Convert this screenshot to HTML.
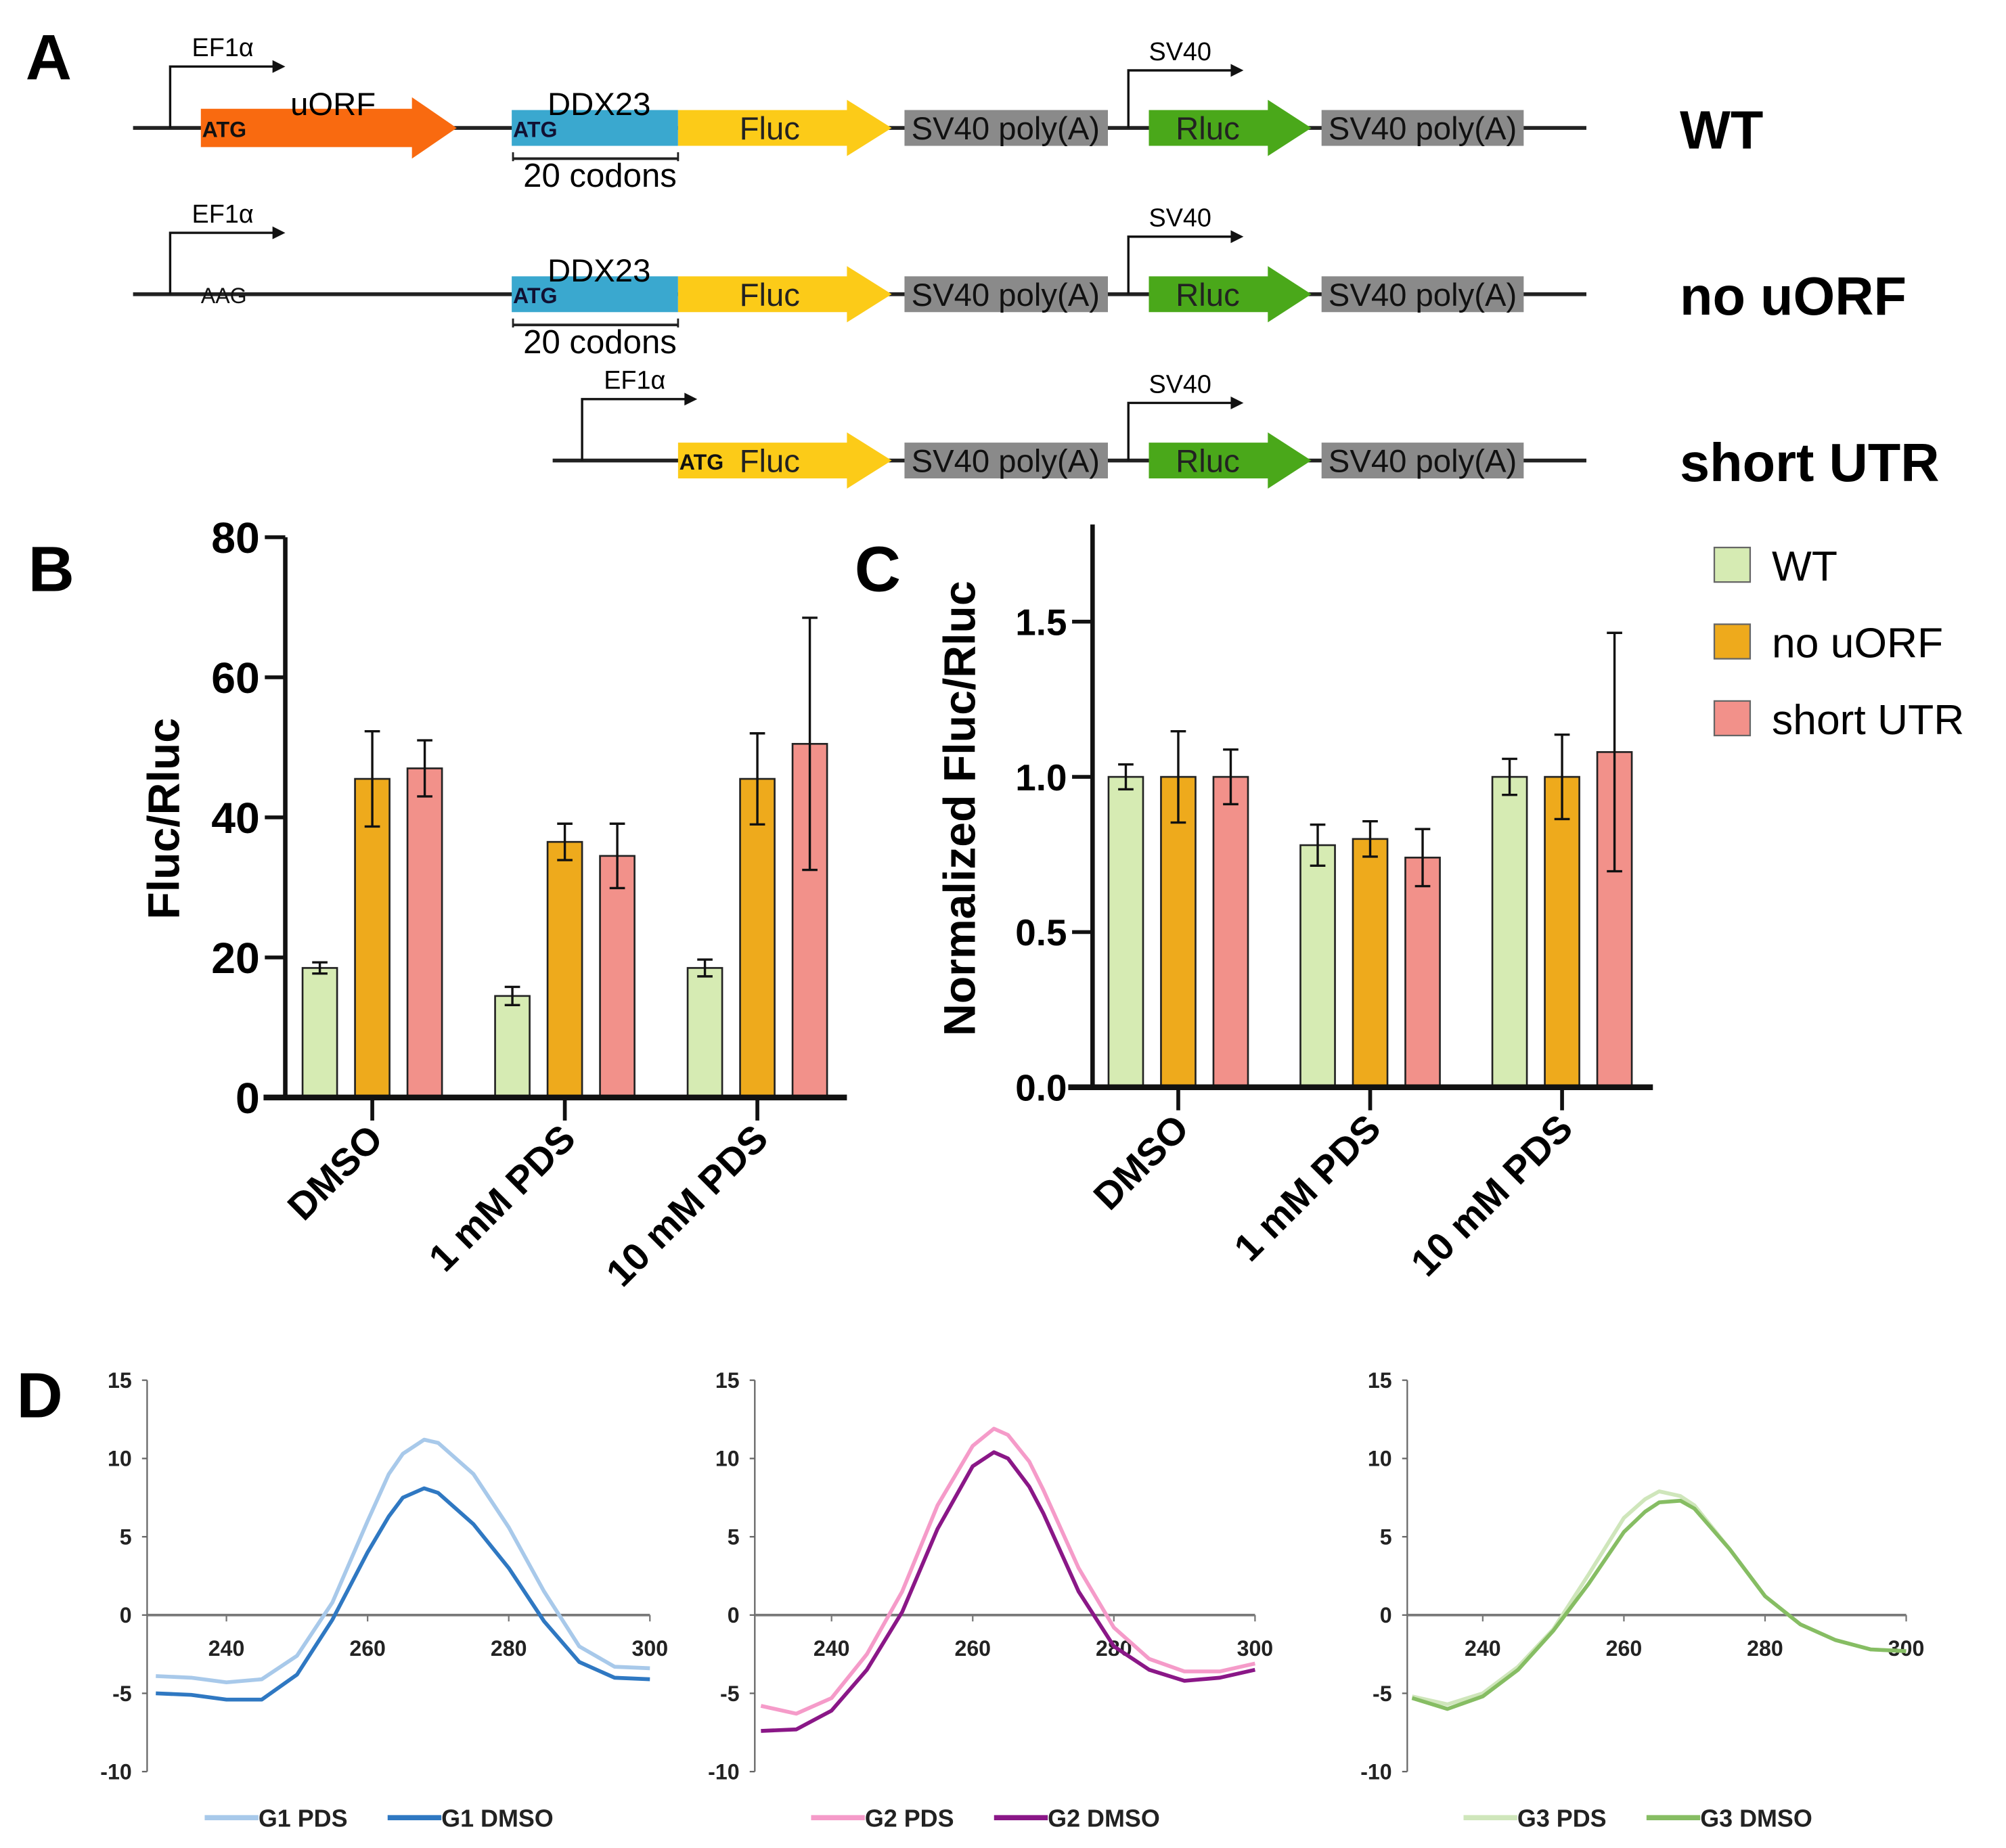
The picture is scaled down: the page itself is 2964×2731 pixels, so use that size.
<!DOCTYPE html>
<html><head><meta charset="utf-8"><style>
html,body{margin:0;padding:0;background:#fff;}
svg{display:block;}
text{font-family:"Liberation Sans",sans-serif;}
#panelA text.n{font-family:"Liberation Sans Narrow","Liberation Sans",sans-serif;}
</style></head><body>
<svg id="fig" width="2964" height="2731" viewBox="0 0 1568 1444.7" xmlns="http://www.w3.org/2000/svg">
<rect width="1568" height="1445" fill="#fff"/>
<g id="panelA">
<text x="20" y="62" font-size="50" font-weight="bold">A</text>
</g>
<g id="panelB"></g>
<g id="panelC"></g>
<g id="panelD"></g>
</svg>
<script>
// ---- Panel B/C data ----
const categories = ["DMSO", "1 mM PDS", "10 mM PDS"];
const seriesNames = ["WT", "no uORF", "short UTR"];
const seriesColors = ["#d6ebb3", "#eeaa1c", "#f2918a"];
const bWT = [18.5, 14.5, 18.5];
const bWTerr = [0.8, 1.3, 1.2];
const bNoUORF = [45.5, 36.5, 45.5];
const bNoUORFerr = [6.8, 2.6, 6.5];
const bShort = [47, 34.5, 50.5];
const bShortErr = [4, 4.6, 18];
const bTicks = [0, 20, 40, 60, 80];
const cWT = [1.0, 0.78, 1.0];
const cWTerr = [0.04, 0.066, 0.058];
const cNoUORF = [1.0, 0.80, 1.0];
const cNoUORFerr = [0.147, 0.057, 0.136];
const cShort = [1.0, 0.74, 1.08];
const cShortErr = [0.088, 0.092, 0.384];
const cTicks = ["0.0", "0.5", "1.0", "1.5"];
// ---- Panel D data (wavelength nm, CD mdeg) ----
const wl = [230,235,240,245,250,255,260,263,265,268,270,275,280,285,290,295,300];
const g1PDS  = [-3.9,-4.0,-4.3,-4.1,-2.6,0.8,6.0,9.0,10.3,11.2,11.0,9.0,5.6,1.5,-2.0,-3.3,-3.4];
const g1DMSO = [-5.0,-5.1,-5.4,-5.4,-3.8,-0.3,4.0,6.3,7.5,8.1,7.8,5.8,3.0,-0.4,-3.0,-4.0,-4.1];
const g2PDS  = [-5.8,-6.3,-5.3,-2.5,1.5,7.0,10.8,11.9,11.5,9.8,8.0,3.0,-0.8,-2.8,-3.6,-3.6,-3.1];
const g2DMSO = [-7.4,-7.3,-6.1,-3.5,0.2,5.5,9.5,10.4,10.0,8.2,6.5,1.5,-2.0,-3.5,-4.2,-4.0,-3.5];
const g3PDS  = [-5.2,-5.7,-5.0,-3.3,-0.9,2.6,6.2,7.4,7.9,7.6,7.0,4.2,1.2,-0.6,-1.6,-2.2,-2.3];
const g3DMSO = [-5.3,-6.0,-5.2,-3.5,-1.0,2.0,5.3,6.6,7.2,7.3,6.8,4.2,1.2,-0.6,-1.6,-2.2,-2.3];
const dYTicks = [15, 10, 5, 0, -5, -10];
const dXTicks = [240, 260, 280, 300];

const NS = "http://www.w3.org/2000/svg";
function mk(parent, tag, attrs, txt){
  const e = document.createElementNS(NS, tag);
  for (const k in attrs) e.setAttribute(k, attrs[k]);
  if (txt !== undefined) e.textContent = txt;
  parent.appendChild(e);
  return e;
}

// ---------- Panel A ----------
(function(){
  const g = document.getElementById('panelA');
  const rows = [
    {y:100, x0:104, prom:133, uorf:true, ddx:true, name:"WT"},
    {y:230, x0:104, prom:133, uorf:false, ddx:true, name:"no uORF"},
    {y:360, x0:432, prom:455, uorf:false, ddx:false, name:"short UTR"}
  ];
  rows.forEach((r,i)=>{
    const rg = mk(g,'g',{});
    
    
    mk(rg,'line',{x1:r.x0,y1:r.y,x2:1240,y2:r.y,stroke:'#222','stroke-width':3});
    mk(rg,'polyline',{points:`${r.prom},${r.y} ${r.prom},${r.y-48} ${r.prom+82},${r.y-48}`,fill:'none',stroke:'#111','stroke-width':1.8});
    mk(rg,'polygon',{points:`${r.prom+90},${r.y-48} ${r.prom+80},${r.y-53} ${r.prom+80},${r.y-43}`,fill:'#111'});
    mk(rg,'text',{class:'n',x:r.prom+17,y:r.y-56,'font-size':20},'EF1α');
    mk(rg,'polyline',{points:`882,${r.y} 882,${r.y-45} 963,${r.y-45}`,fill:'none',stroke:'#111','stroke-width':1.8});
    mk(rg,'polygon',{points:`972,${r.y-45} 962,${r.y-50} 962,${r.y-40}`,fill:'#111'});
    mk(rg,'text',{class:'n',x:898,y:r.y-53,'font-size':20},'SV40');
    if (r.uorf){
      mk(rg,'polygon',{points:`157,${r.y-15} 322,${r.y-15} 322,${r.y-24} 357,${r.y} 322,${r.y+24} 322,${r.y+15} 157,${r.y+15}`,fill:'#f96a10'});
      mk(rg,'text',{class:'n',x:158,y:r.y+7,'font-size':17,'font-weight':'bold',fill:'#111'},'ATG');
      mk(rg,'text',{class:'n',x:227,y:r.y-10,'font-size':25},'uORF');
    } else if (r.ddx){
      mk(rg,'text',{class:'n',x:157,y:r.y+7,'font-size':17,fill:'#111'},'AAG');
    }
    if (r.ddx){
      mk(rg,'rect',{x:400,y:r.y-14,width:130,height:28,fill:'#3aa8cf'});
      mk(rg,'text',{class:'n',x:401,y:r.y+7,'font-size':17,'font-weight':'bold',fill:'#113'},'ATG');
      mk(rg,'text',{class:'n',x:428,y:r.y-10,'font-size':25},'DDX23');
      mk(rg,'line',{x1:401,y1:r.y+24,x2:530,y2:r.y+24,stroke:'#222','stroke-width':2});
      mk(rg,'line',{x1:401,y1:r.y+19,x2:401,y2:r.y+26,stroke:'#222','stroke-width':1.5});
      mk(rg,'line',{x1:530,y1:r.y+19,x2:530,y2:r.y+26,stroke:'#222','stroke-width':1.5});
      mk(rg,'text',{class:'n',x:409,y:r.y+46,'font-size':26},'20 codons');
    }
    mk(rg,'polygon',{points:`530,${r.y-14} 662,${r.y-14} 662,${r.y-22} 697,${r.y} 662,${r.y+22} 662,${r.y+14} 530,${r.y+14}`,fill:'#fccb18'});
    if (!r.ddx) mk(rg,'text',{class:'n',x:531,y:r.y+7,'font-size':17,'font-weight':'bold',fill:'#111'},'ATG');
    mk(rg,'text',{class:'n',x:578,y:r.y+9,'font-size':25,fill:'#222'},'Fluc');
    mk(rg,'rect',{x:707,y:r.y-14,width:159,height:28,fill:'#8a8a8a'});
    mk(rg,'text',{class:'n',x:786,y:r.y+9,'font-size':25,'text-anchor':'middle',fill:'#111'},'SV40 poly(A)');
    mk(rg,'polygon',{points:`898,${r.y-14} 991,${r.y-14} 991,${r.y-22} 1025,${r.y} 991,${r.y+22} 991,${r.y+14} 898,${r.y+14}`,fill:'#4aa81a'});
    mk(rg,'text',{class:'n',x:919,y:r.y+9,'font-size':25,fill:'#222'},'Rluc');
    mk(rg,'rect',{x:1033,y:r.y-14,width:158,height:28,fill:'#8a8a8a'});
    mk(rg,'text',{class:'n',x:1112,y:r.y+9,'font-size':25,'text-anchor':'middle',fill:'#111'},'SV40 poly(A)');
    const lab = mk(rg,'text',{x:1313,y:r.y+16,'font-size':42,'font-weight':'bold'},r.name);
    
    
  });
})();

// ---------- Bar charts ----------
function barChart(gid, o){
  const g = document.getElementById(gid);
  const y = v => o.y0 - (v - 0) / o.vmax * (o.y0 - o.yTop);
  const series = [[o.s1,o.e1],[o.s2,o.e2],[o.s3,o.e3]];
  const offs = [-41, 0, 41];
  categories.forEach((c,ci)=>{
    const cx = o.cx0 + ci*o.step;
    series.forEach((s,si)=>{
      const bx = cx + offs[si] - 13.5;
      const v = s[0][ci], e = s[1][ci];
      const r = mk(g,'rect',{x:bx,y:y(v),width:27,height:o.y0-y(v),fill:seriesColors[si],stroke:'#222','stroke-width':1.4});
      
      
      const ex = cx + offs[si];
      const eg = mk(g,'g',{stroke:'#111','stroke-width':1.8});
      
      
      mk(eg,'line',{x1:ex,y1:y(v+e),x2:ex,y2:y(v-e)});
      mk(eg,'line',{x1:ex-6,y1:y(v+e),x2:ex+6,y2:y(v+e)});
      mk(eg,'line',{x1:ex-6,y1:y(v-e),x2:ex+6,y2:y(v-e)});
    });
    mk(g,'line',{x1:cx,y1:o.y0,x2:cx,y2:o.y0+18,stroke:'#111','stroke-width':3});
    const t = mk(g,'text',{x:cx+10,y:o.y0+34,'font-size':30,'font-weight':'bold','text-anchor':'end',transform:`rotate(-45 ${cx+10} ${o.y0+34})`},c);
    
    
  });
  const ya = mk(g,'line',{x1:o.ax,y1:o.y0,x2:o.ax,y2:o.axTop,stroke:'#111','stroke-width':3.5});
  
  
  const xa = mk(g,'line',{x1:o.xStart,y1:o.y0,x2:o.xEnd,y2:o.y0,stroke:'#111','stroke-width':4.5});
  
  
  o.ticks.forEach(tk=>{
    const v = parseFloat(tk), ty = y(v);
    mk(g,'line',{x1:o.ax-16,y1:ty,x2:o.ax,y2:ty,stroke:'#111','stroke-width':3});
    const t = mk(g,'text',{x:o.ax-20,y:ty+o.tfs*0.36,'font-size':o.tfs,'font-weight':'bold','text-anchor':'end'},tk);
    
    
  });
  const ttl = mk(g,'text',{x:o.titleX,y:o.titleY,'font-size':35,'font-weight':'bold','text-anchor':'middle',transform:`rotate(-90 ${o.titleX} ${o.titleY})`},o.title);
  
  
  const L = mk(g,'text',{x:o.letterX,y:o.letterY,'font-size':50,'font-weight':'bold'},o.letter);
  
  
}
barChart('panelB',{y0:858,yTop:420,vmax:80,cx0:291,step:150.5,ax:223,axTop:420,xStart:206,xEnd:662,
  s1:bWT,e1:bWTerr,s2:bNoUORF,e2:bNoUORFerr,s3:bShort,e3:bShortErr,ticks:bTicks.map(String),tfs:34,
  title:'Fluc/Rluc',titleX:140,titleY:640,letter:'B',letterX:22,letterY:462});
barChart('panelC',{y0:850,yTop:486,vmax:1.5,cx0:921,step:150,ax:854,axTop:410,xStart:835,xEnd:1292,
  s1:cWT,e1:cWTerr,s2:cNoUORF,e2:cNoUORFerr,s3:cShort,e3:cShortErr,ticks:cTicks,tfs:29,
  title:'Normalized Fluc/Rluc',titleX:762,titleY:632,letter:'C',letterX:668,letterY:462});
(function(){
  const g = document.getElementById('panelC');
  seriesNames.forEach((n,i)=>{
    const lg = mk(g,'g',{});
    
    
    mk(lg,'rect',{x:1340,y:428+i*60,width:28,height:27,fill:seriesColors[i],stroke:'#666','stroke-width':1.2});
    mk(lg,'text',{x:1385,y:454+i*60,'font-size':33},n);
  });
})();

// ---------- Panel D ----------
(function(){
  const g = document.getElementById('panelD');
  const L = mk(g,'text',{x:13,y:1108,'font-size':50,'font-weight':'bold'},'D');
  
  
  const charts = [
    {ax:115, x240:177, x300:508, a:g1PDS, b:g1DMSO, ca:'#a8c9ea', cb:'#2f78c2', na:'G1 PDS', nb:'G1 DMSO', lx:160},
    {ax:590, x240:650, x300:981, a:g2PDS, b:g2DMSO, ca:'#f59bc9', cb:'#8a1787', na:'G2 PDS', nb:'G2 DMSO', lx:634},
    {ax:1100, x240:1159, x300:1490, a:g3PDS, b:g3DMSO, ca:'#cfe6bb', cb:'#86bd63', na:'G3 PDS', nb:'G3 DMSO', lx:1144}
  ];
  const yTop = 1079, yBot = 1385;
  const yv = v => yTop + (15 - v) / 25 * (yBot - yTop);
  charts.forEach((c,ci)=>{
    const cg = mk(g,'g',{});
    
    
    const xv = w => c.x240 + (w - 240) / 60 * (c.x300 - c.x240);
    mk(cg,'line',{x1:c.ax,y1:yTop,x2:c.ax,y2:yBot,stroke:'#666','stroke-width':1.2});
    dYTicks.forEach(t=>{
      mk(cg,'line',{x1:c.ax-4,y1:yv(t),x2:c.ax,y2:yv(t),stroke:'#666','stroke-width':1.2});
      const tt = mk(cg,'text',{x:c.ax-12,y:yv(t)+6,'font-size':17,'font-weight':'bold','text-anchor':'end',fill:'#222'},String(t));
      
      
    });
    mk(cg,'line',{x1:c.ax,y1:yv(0),x2:c.x300,y2:yv(0),stroke:'#777','stroke-width':2});
    dXTicks.forEach(t=>{
      mk(cg,'line',{x1:xv(t),y1:yv(0),x2:xv(t),y2:yv(0)+5,stroke:'#777','stroke-width':1.2});
      const tt = mk(cg,'text',{x:xv(t),y:yv(0)+32,'font-size':17,'font-weight':'bold','text-anchor':'middle',fill:'#222'},String(t));
      
      
    });
    [[c.a,c.ca,c.na],[c.b,c.cb,c.nb]].forEach((s,si)=>{
      const pts = wl.map((w,i)=>xv(w).toFixed(1)+','+yv(s[0][i]).toFixed(1)).join(' ');
      const p = mk(cg,'polyline',{points:pts,fill:'none',stroke:s[1],'stroke-width':3,'stroke-linejoin':'round'});
      
      
      const lx = c.lx + si*143;
      const lg = mk(cg,'g',{});
      
      
      mk(lg,'line',{x1:lx,y1:1421,x2:lx+42,y2:1421,stroke:s[1],'stroke-width':4});
      mk(lg,'text',{x:lx+42,y:1428,'font-size':19,'font-weight':'bold',fill:'#222'},s[2]);
    });
  });
})();
</script>
</body></html>
